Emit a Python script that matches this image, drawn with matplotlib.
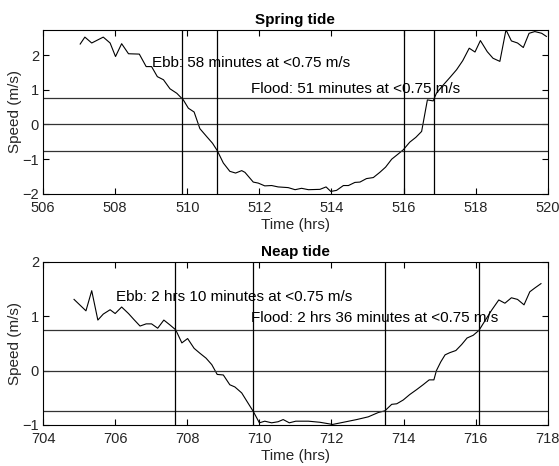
import numpy as np
import matplotlib.pyplot as plt

# Spring tide record (hrs, m/s)
spring_t = [507.03, 507.16, 507.35, 507.67, 507.86, 508.01, 508.18, 508.37, 508.67, 508.86,
            509.01, 509.17, 509.34, 509.52, 509.71, 509.89, 510.03, 510.19, 510.35, 510.54,
            510.70, 510.83, 511.00, 511.18, 511.34, 511.51, 511.60, 511.83, 511.97, 512.15,
            512.34, 512.52, 512.80, 512.99, 513.17, 513.36, 513.68, 513.85, 513.98, 514.14,
            514.33, 514.47, 514.65, 514.79, 514.97, 515.16, 515.34, 515.50, 515.67, 515.85,
            515.99, 516.17, 516.34, 516.50, 516.66, 516.82, 516.91, 517.10, 517.28, 517.47,
            517.64, 517.82, 517.98, 518.13, 518.32, 518.48, 518.67, 518.84, 518.99, 519.16,
            519.32, 519.48, 519.64, 519.83, 519.96]
spring_v = [2.32, 2.52, 2.35, 2.52, 2.35, 1.96, 2.33, 2.04, 2.03, 1.67,
            1.67, 1.38, 1.29, 1.03, 0.90, 0.71, 0.47, 0.36, -0.12, -0.35,
            -0.54, -0.75, -1.11, -1.35, -1.40, -1.33, -1.38, -1.66, -1.69, -1.77,
            -1.76, -1.80, -1.82, -1.88, -1.84, -1.88, -1.87, -1.80, -1.93, -1.90,
            -1.76, -1.76, -1.67, -1.66, -1.56, -1.53, -1.38, -1.23, -1.00, -0.85,
            -0.73, -0.51, -0.37, -0.20, 0.71, 0.68, 0.90, 1.14, 1.35, 1.58,
            1.84, 2.20, 2.09, 2.42, 2.10, 1.91, 1.82, 2.73, 2.41, 2.35,
            2.22, 2.63, 2.68, 2.63, 2.54]

# Neap tide record
neap_t = [704.86, 705.19, 705.35, 705.52, 705.67, 705.86, 706.00, 706.18, 706.37, 706.52,
          706.69, 706.86, 707.01, 707.18, 707.35, 707.52, 707.68, 707.85, 708.01, 708.19,
          708.35, 708.52, 708.68, 708.83, 709.00, 709.18, 709.32, 709.51, 709.66, 709.83,
          710.00, 710.15, 710.34, 710.52, 710.66, 710.83, 711.01, 711.36, 711.68, 712.03,
          712.33, 712.70, 713.02, 713.30, 713.48, 713.67, 713.81, 713.99, 714.17, 714.36,
          714.54, 714.71, 714.84, 714.91, 715.03, 715.15, 715.28, 715.45, 715.61, 715.76,
          715.93, 716.09, 716.25, 716.44, 716.64, 716.81, 716.99, 717.16, 717.34, 717.50,
          717.64, 717.81]
neap_v = [1.31, 1.10, 1.47, 0.93, 1.04, 1.12, 1.05, 1.17, 1.05, 0.94,
          0.82, 0.86, 0.86, 0.78, 0.93, 0.84, 0.75, 0.51, 0.59, 0.41,
          0.32, 0.23, 0.11, -0.07, -0.08, -0.26, -0.30, -0.41, -0.57, -0.75,
          -0.96, -0.93, -0.96, -0.94, -0.90, -0.96, -0.93, -0.93, -0.95, -0.99,
          -0.95, -0.90, -0.85, -0.77, -0.74, -0.62, -0.61, -0.54, -0.44, -0.35,
          -0.26, -0.17, -0.17, 0.00, 0.16, 0.29, 0.33, 0.37, 0.48, 0.60,
          0.65, 0.74, 0.91, 1.11, 1.30, 1.24, 1.34, 1.31, 1.21, 1.45,
          1.52, 1.60]

threshold = 0.75
# slack-window crossings (hrs)
spring_cross = [509.86, 510.83, 516.00, 516.85]
neap_cross = [707.66, 709.83, 713.48, 716.09]

spring_notes = ["Ebb: 58 minutes at <0.75 m/s", "Flood: 51 minutes at <0.75 m/s"]
neap_notes = ["Ebb: 2 hrs 10 minutes at <0.75 m/s", "Flood: 2 hrs 36 minutes at <0.75 m/s"]

plt.rcParams['font.family'] = ['Liberation Sans', 'DejaVu Sans']
plt.rcParams['font.size'] = 10

fig = plt.figure(figsize=(5.59, 4.66), dpi=100)
ax1 = fig.add_axes([0.077, 0.584, 0.903, 0.352])
ax2 = fig.add_axes([0.077, 0.088, 0.903, 0.350])


def tide_panel(ax, t, v, cross, notes, title, xlim, ylim, note_pos):
    ax.plot(t, v, color='k', lw=0.8)
    for y in (threshold, 0, -threshold):
        ax.axhline(y, color='0.2', lw=0.9)
    for x in cross:
        ax.axvline(x, color='k', lw=0.9)
    # text anchored on its baseline, like the reference
    for (x, y), note in zip(note_pos, notes):
        ax.text(x, y, note, va='baseline', ha='left', fontsize=11)
    ax.set_xlim(xlim)
    ax.set_ylim(ylim)
    ax.set_xticks(np.arange(xlim[0], xlim[1] + 1, 2))
    ax.set_yticks(np.arange(np.ceil(ylim[0]), np.floor(ylim[1]) + 1, 1))
    ax.tick_params(direction='in', top=True, right=True, length=4, width=0.8,
                   colors='k', labelcolor='#262626', labelsize=10.5)
    ax.tick_params(axis='x', pad=5)
    ax.tick_params(axis='y', pad=3)
    for s in ax.spines.values():
        s.set_linewidth(0.8)
    ax.set_xlabel('Time (hrs)', labelpad=2, color='#262626', fontsize=11)
    ax.set_ylabel('Speed (m/s)', color='#262626', fontsize=11)
    ax.yaxis.set_label_coords(-0.042, 0.5)
    ax.set_title(title, fontweight='bold', fontsize=11, pad=4)


tide_panel(ax1, spring_t, spring_v, spring_cross, spring_notes, 'Spring tide',
           (506, 520), (-2, max(spring_v)), [(509.02, 1.65), (511.76, 0.90)])
tide_panel(ax2, neap_t, neap_v, neap_cross, neap_notes, 'Neap tide',
           (704, 718), (-1, 2), [(706.02, 1.28), (709.76, 0.90)])

fig.savefig('out.png', dpi=100)
